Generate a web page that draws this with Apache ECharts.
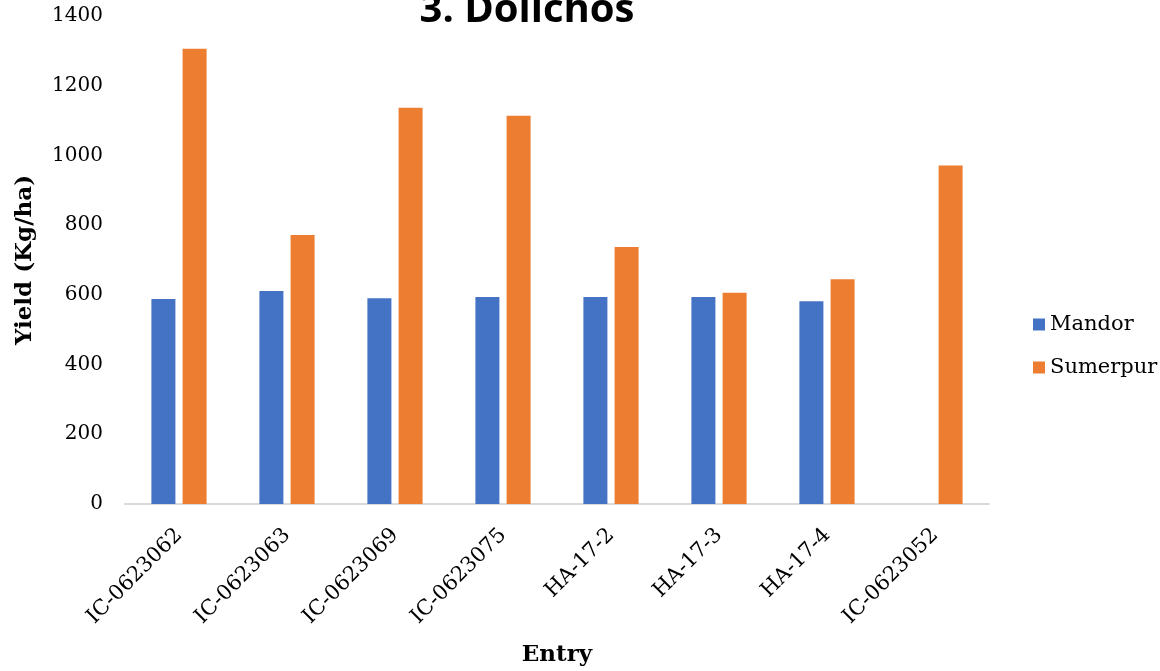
<!DOCTYPE html>
<html><head><meta charset="utf-8">
<script src="https://cdn.jsdelivr.net/npm/echarts@6/dist/echarts.min.js"></script>
<style>html,body{margin:0;padding:0;background:#fff}#c{width:1160px;height:671px}</style>
</head><body><div id="c"></div>
<script>
const categories = ['IC-0623062','IC-0623063','IC-0623069','IC-0623075','HA-17-2','HA-17-3','HA-17-4','IC-0623052'];
const mandor = [588, 611, 590, 594, 594, 594, 582, null];
const sumerpur = [1306, 772, 1137, 1114, 737, 606, 645, 971];
const yTicks = [0, 200, 400, 600, 800, 1000, 1200, 1400];

const serif = 'DejaVu Serif';
const chart = echarts.init(document.getElementById('c'));
chart.setOption({
  animation: false,
  title: {
    text: '3. Dolichos', left: 522, textAlign: 'center', top: -14,
    textStyle: { fontFamily: 'Open Sans', fontWeight: 'bold', fontSize: 40, color: '#000' }
  },
  grid: { left: 125, right: 171, top: 16, bottom: 167, outerBoundsMode: 'none', containLabel: false },
  legend: {
    orient: 'vertical', left: 1028, top: 308, itemWidth: 12, itemHeight: 12, itemGap: 20,
    icon: 'rect', itemGap: 20,
    textStyle: { fontFamily: serif, fontSize: 21, lineHeight: 23, color: '#000' },
    data: ['Mandor', 'Sumerpur']
  },
  xAxis: {
    type: 'category', data: categories,
    name: 'Entry', nameLocation: 'middle', nameGap: 140,
    nameTextStyle: { fontFamily: serif, fontWeight: 'bold', fontSize: 23, color: '#000' },
    axisLine: { lineStyle: { color: '#D9D9D9', width: 2 } },
    axisTick: { show: false },
    axisLabel: { rotate: 45, margin: 28, fontFamily: serif, fontSize: 21, color: '#000', interval: 0 }
  },
  yAxis: {
    type: 'value', min: yTicks[0], max: yTicks[yTicks.length - 1], interval: 200,
    name: 'Yield (Kg/ha)', nameLocation: 'middle', nameGap: 88, nameRotate: 90,
    nameTextStyle: { fontFamily: serif, fontWeight: 'bold', fontSize: 23, color: '#000' },
    axisLine: { show: false }, axisTick: { show: false },
    splitLine: { show: false },
    axisLabel: { margin: 22, fontFamily: serif, fontSize: 20, color: '#000', formatter: v => String(v) }
  },
  series: [
    { name: 'Mandor', type: 'bar', data: mandor, barWidth: 24, barGap: '30%', itemStyle: { color: '#4472C4' } },
    { name: 'Sumerpur', type: 'bar', data: sumerpur, barWidth: 24, itemStyle: { color: '#ED7D31' } }
  ]
});
</script></body></html>
